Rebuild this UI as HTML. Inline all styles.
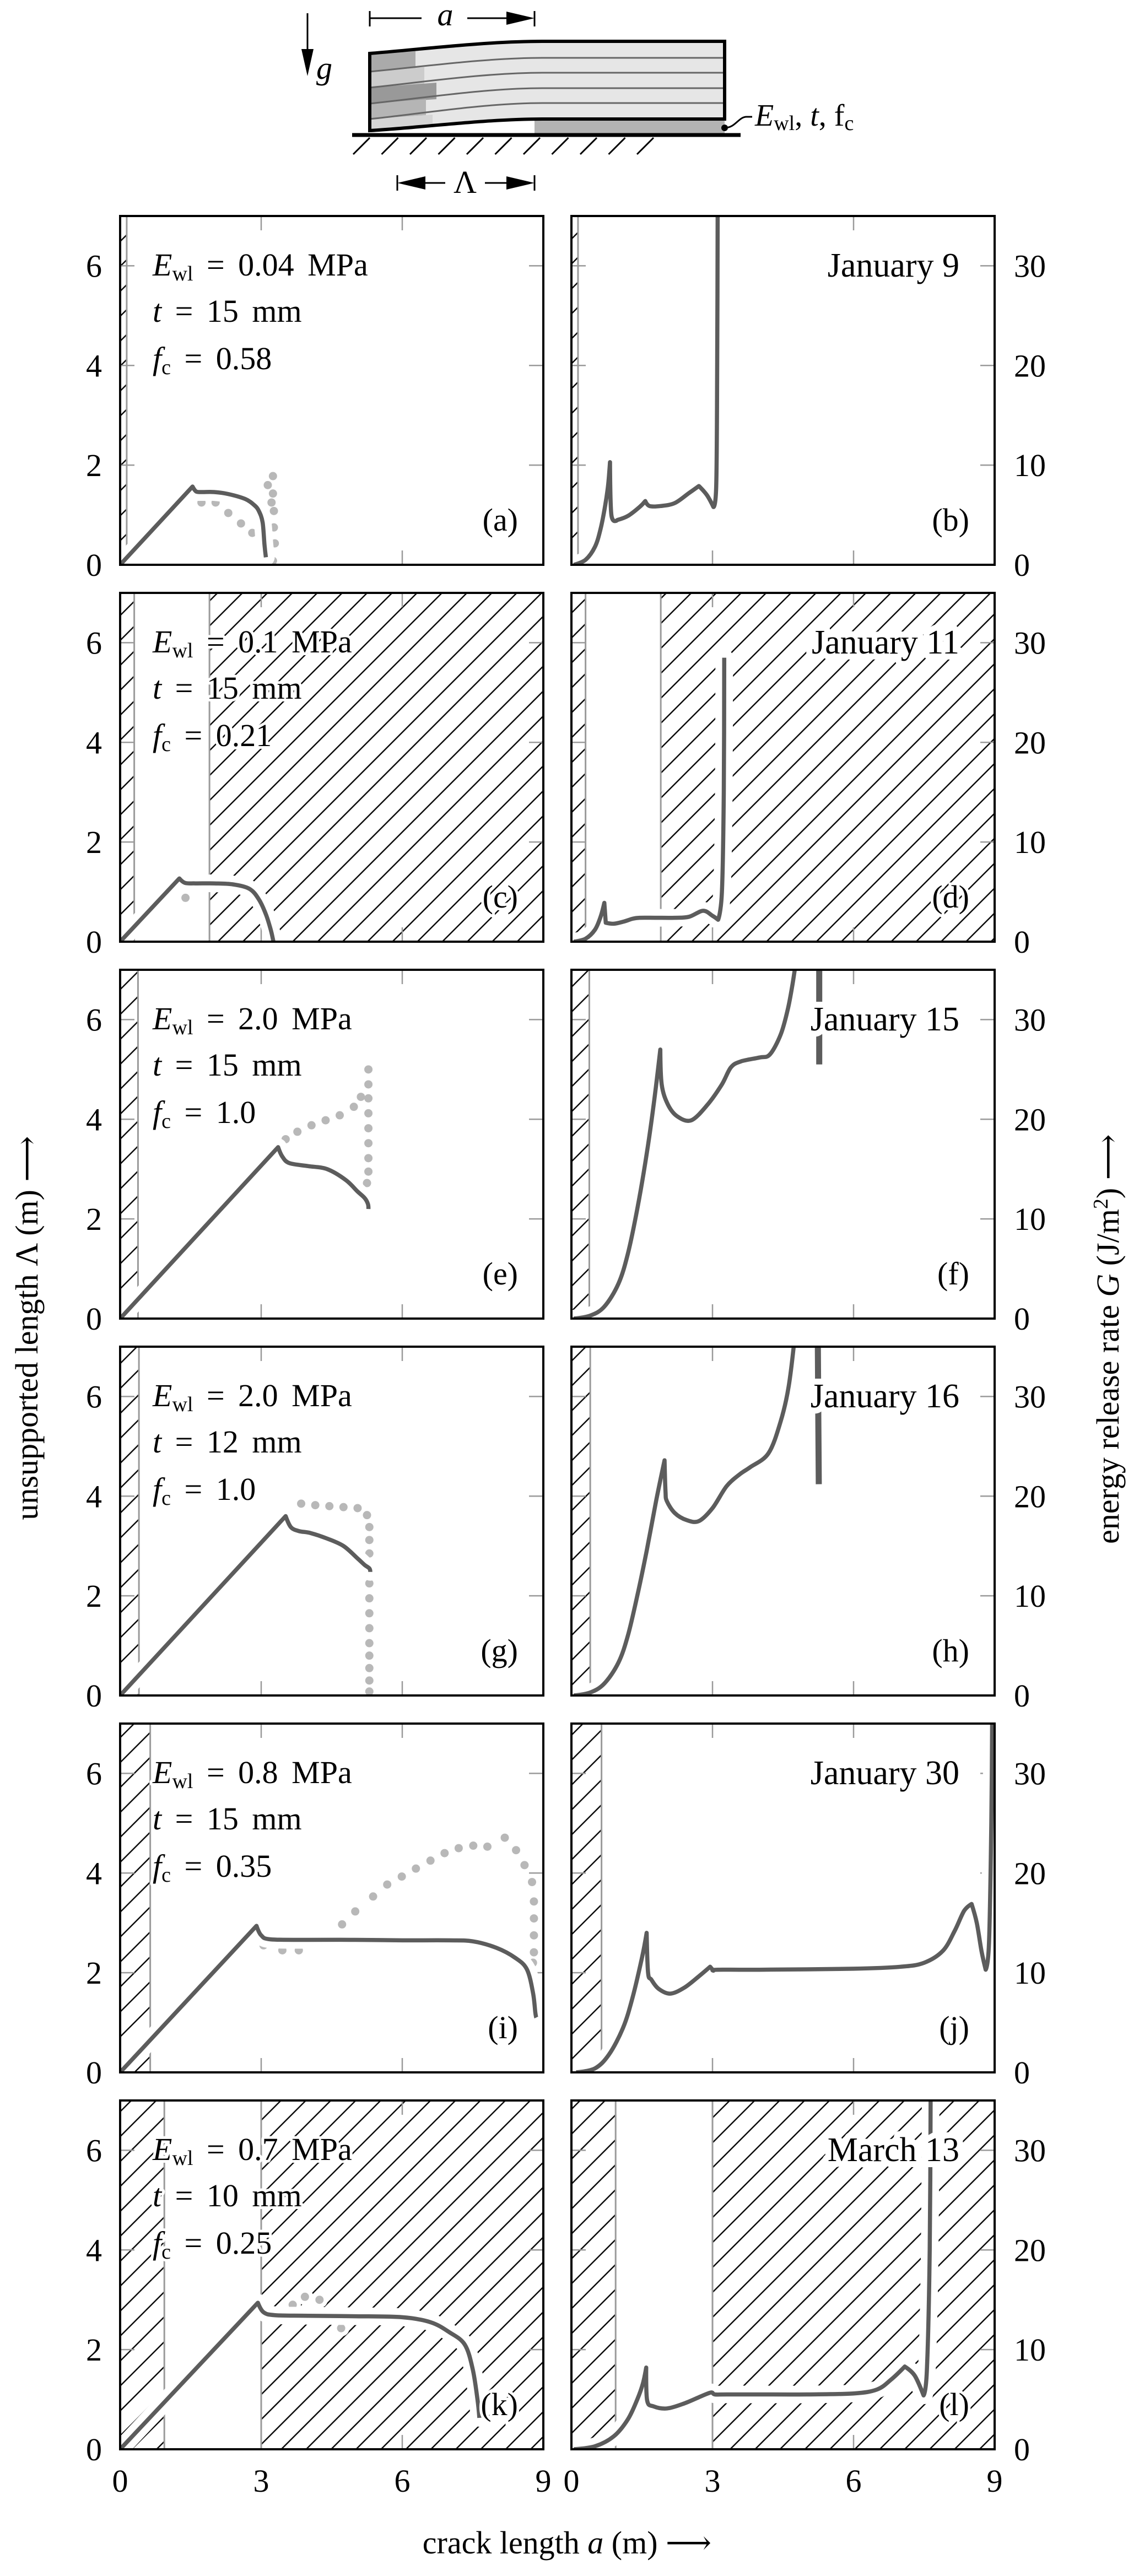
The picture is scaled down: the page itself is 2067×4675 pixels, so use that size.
<!DOCTYPE html>
<html>
<head>
<meta charset="utf-8">
<style>
html,body{margin:0;padding:0;background:#fff;}
svg{display:block;font-family:"Liberation Serif","DejaVu Serif",serif;}
svg text{font-family:"Liberation Serif","DejaVu Serif",serif;fill:#000;}
</style>
</head>
<body>
<svg id="chart" xmlns="http://www.w3.org/2000/svg" width="2067" height="4675" viewBox="0 0 2067 4675" font-family="Liberation Serif, serif">
<defs>
<pattern id="hatch" patternUnits="userSpaceOnUse" width="32" height="64" patternTransform="rotate(45)">
<line x1="16" y1="-2" x2="16" y2="66" stroke="#000" stroke-width="2.4"/>
</pattern>
</defs>
<g id="diagram">
  <path d="M671,97 C760,90 880,75 984,75 L1315,75 L1315,216 L984,216 C880,216 760,232 671,237 Z" fill="#e6e6e6"/>
  <path d="M671,97 L754,90 L754,124 L671,130 Z" fill="#aaaaaa"/>
  <path d="M671,130 L770,122 L770,152 L671,159 Z" fill="#cccccc"/>
  <path d="M671,159 L792,150 L792,180 L671,188 Z" fill="#999999"/>
  <path d="M671,188 L773,180 L773,209 L671,216 Z" fill="#b5b5b5"/>
  <path d="M671,216 L785,208 L785,230 L671,237 Z" fill="#d5d5d5"/>
  <rect x="970" y="219" width="345" height="23" fill="#b3b3b3"/>
  <g fill="none" stroke="#666" stroke-width="3">
    <path d="M671,130 C760,122 880,105 984,105 L1315,105"/>
    <path d="M671,159 C760,150 880,132 984,132 L1315,132"/>
    <path d="M671,188 C760,179 880,160 984,160 L1315,160"/>
    <path d="M671,216 C760,207 880,187 984,187 L1315,187"/>
  </g>
  <path d="M671,97 C760,90 880,75 984,75 L1315,75 L1315,216 L984,216 C880,216 760,232 671,237 Z" fill="none" stroke="#000" stroke-width="6"/>
  <line x1="639" y1="245" x2="1344" y2="245" stroke="#000" stroke-width="7"/>
  <g id="groundHatch" stroke="#000" stroke-width="3"></g>
  <circle cx="1315" cy="232" r="6" fill="#000"/>
  <path d="M1315,232 C1335,232 1340,212 1355,212 L1365,212" fill="none" stroke="#000" stroke-width="3"/>
  <text x="1370" y="228" font-size="56" font-family="Liberation Serif, serif"><tspan font-style="italic">E</tspan><tspan font-size="38" dy="8">wl</tspan><tspan dy="-8">, </tspan><tspan font-style="italic">t</tspan><tspan>, f</tspan><tspan font-size="38" dy="8">c</tspan></text>
  <line x1="671" y1="20" x2="671" y2="48" stroke="#000" stroke-width="3"/>
  <line x1="970" y1="20" x2="970" y2="48" stroke="#000" stroke-width="3"/>
  <line x1="671" y1="33" x2="765" y2="33" stroke="#000" stroke-width="3"/>
  <line x1="848" y1="33" x2="925" y2="33" stroke="#000" stroke-width="3"/>
  <polygon points="919,21 970,33 919,45" fill="#000"/>
  <text x="808" y="46" font-size="58" font-style="italic" text-anchor="middle" font-family="Liberation Serif, serif">a</text>
  <line x1="721" y1="318" x2="721" y2="346" stroke="#000" stroke-width="3"/>
  <line x1="970" y1="318" x2="970" y2="346" stroke="#000" stroke-width="3"/>
  <polygon points="721,332 772,320 772,344" fill="#000"/>
  <line x1="770" y1="332" x2="808" y2="332" stroke="#000" stroke-width="3"/>
  <line x1="880" y1="332" x2="922" y2="332" stroke="#000" stroke-width="3"/>
  <polygon points="919,320 970,332 919,344" fill="#000"/>
  <text x="844" y="350" font-size="58" text-anchor="middle" font-family="Liberation Serif, serif">Λ</text>
  <line x1="558" y1="24" x2="558" y2="95" stroke="#000" stroke-width="3"/>
  <polygon points="547,89 569,89 558,138" fill="#000"/>
  <text x="574" y="143" font-size="58" font-style="italic" font-family="Liberation Serif, serif">g</text>
</g>
<g id="panels"></g>
<text transform="translate(68,2410) rotate(-90)" font-size="58" text-anchor="middle" font-family="Liberation Serif, serif">unsupported length Λ (m) ⟶</text>
<text transform="translate(2030,2430) rotate(-90)" font-size="58" text-anchor="middle" font-family="Liberation Serif, serif">energy release rate <tspan font-style="italic">G</tspan> (J/m<tspan font-size="38" dy="-20">2</tspan><tspan dy="20">) ⟶</tspan></text>
<text x="1029" y="4634" font-size="58" text-anchor="middle" font-family="Liberation Serif, serif">crack length <tspan font-style="italic">a</tspan> (m) ⟶</text>
</svg>
<script>
// ---------------- data (axis units: a in m, Λ in m, G in J/m²) ----------------
const xTicks = [0, 3, 6, 9];
const yTicksLeft = [0, 2, 4, 6];
const yTicksRight = [0, 10, 20, 30];
const panelLetters = ["a","b","c","d","e","f","g","h","i","j","k","l"];
const paramE = ["0.04", "0.1", "2.0", "2.0", "0.8", "0.7"];
const paramT = ["15", "15", "15", "12", "15", "10"];
const paramF = ["0.58", "0.21", "1.0", "1.0", "0.35", "0.25"];
const dateLabels = ["January 9", "January 11", "January 15", "January 16", "January 30", "March 13"];
const hatchBands = [
  [[0,0.14]],
  [[0,0.3],[1.9,9]],
  [[0,0.38]],
  [[0,0.4]],
  [[0,0.64]],
  [[0,0.94],[3.0,9]]
];
const a_x = [0,1.54,1.62,1.75,2.0,2.3,2.66,2.85,2.95,3.03,3.07,3.1];
const a_y = [0,1.57,1.47,1.46,1.46,1.42,1.32,1.2,1.08,0.85,0.4,0.15];
const a_dx = [1.73,2.03,2.3,2.57,2.81,3.25,3.14,3.25,3.22,3.27,3.27,3.29,3.25];
const a_dy = [1.25,1.25,1.04,0.83,0.64,1.78,1.6,1.43,1.25,1.08,0.75,0.43,0.08];
const b_x = [0.05,0.3,0.5,0.62,0.72,0.78,0.82,0.85,0.98,1.2,1.45,1.57,1.66,1.9,2.2,2.5,2.71,2.88,3.02,3.08,3.1,3.11];
const b_y = [0,0.5,1.8,3.6,6.0,8.0,10.3,5.0,4.5,4.9,5.8,6.4,5.9,5.9,6.2,7.2,7.9,7.0,5.8,8,20,36];
const c_x = [0,1.26,1.38,1.6,2.0,2.4,2.75,2.95,3.1,3.2,3.25,3.26];
const c_y = [0,1.27,1.18,1.17,1.17,1.15,1.06,0.85,0.55,0.25,0.05,0];
const c_dx = [1.39];
const c_dy = [0.88];
const d_x = [0.05,0.3,0.5,0.62,0.7,0.73,0.9,1.1,1.3,1.45,1.8,2.2,2.5,2.8,3.0,3.12,3.2,3.24,3.25];
const d_y = [0,0.3,1.2,2.5,3.9,1.9,1.8,2.0,2.3,2.4,2.4,2.4,2.5,3.1,2.6,2.2,5,15,28.5];
const e_x = [0,3.36,3.45,3.6,4.0,4.4,4.8,5.05,5.2,5.27,5.28];
const e_y = [0,3.44,3.25,3.12,3.06,3.0,2.78,2.55,2.42,2.3,2.2];
const e_dx = [3.52,3.77,4.07,4.37,4.67,4.97,5.12,5.28,5.28,5.28,5.28,5.28,5.28,5.28,5.28,5.25];
const e_dy = [3.6,3.75,3.88,3.98,4.08,4.25,4.45,5.0,4.7,4.42,4.12,3.82,3.52,3.22,2.95,2.72];
const f_x = [0.05,0.4,0.7,1.0,1.2,1.4,1.6,1.75,1.89,1.92,2.05,2.25,2.55,2.9,3.2,3.39,3.6,4.0,4.22,4.45,4.6,4.7,4.78];
const f_y = [0,0.3,1.2,3.5,6.5,11,16.5,21.5,27,23.5,21.5,20.3,19.9,21.5,23.5,25.2,25.8,26.2,26.5,28.5,31,33.5,36];
const f_spike_x = [5.27,5.27,5.27];
const f_spike_y = [36,30,25.5];
const g_x = [0,3.52,3.63,3.8,4.05,4.4,4.75,5.05,5.2,5.3,5.32];
const g_y = [0,3.6,3.38,3.3,3.26,3.15,3.0,2.75,2.62,2.55,2.48];
const g_dx = [3.85,4.15,4.45,4.75,5.05,5.25,5.3,5.3,5.3,5.3,5.3,5.3,5.3,5.3,5.3,5.3,5.3,5.3,5.3,5.3];
const g_dy = [3.85,3.82,3.8,3.78,3.76,3.62,3.38,3.12,2.85,2.55,2.25,1.95,1.65,1.35,1.05,0.8,0.55,0.3,0.08,-0.1];
const h_x = [0.05,0.4,0.7,1.0,1.2,1.4,1.6,1.8,1.98,2.0,2.03,2.2,2.45,2.71,3.0,3.3,3.58,3.8,4.19,4.45,4.62,4.75];
const h_y = [0,0.3,1.2,3.3,6.0,10,14.5,19.5,23.6,20.5,19.5,18.3,17.6,17.5,18.8,21,22.2,22.9,24.3,27.5,31,36];
const h_spike_x = [5.24,5.25,5.26];
const h_spike_y = [36,28,21.2];
const i_x = [0,2.9,3.0,3.2,4,5,6,7,7.5,8,8.4,8.65,8.78,8.83,8.85];
const i_y = [0,2.94,2.75,2.67,2.66,2.66,2.65,2.65,2.63,2.5,2.3,2.07,1.6,1.2,1.1];
const i_dx = [3.05,3.45,3.8,4.72,5.0,5.38,5.68,5.99,6.29,6.6,6.9,7.2,7.51,7.81,8.18,8.42,8.6,8.76,8.8,8.8,8.8,8.8,8.78];
const i_dy = [2.55,2.45,2.45,2.97,3.23,3.53,3.77,3.93,4.09,4.25,4.4,4.5,4.55,4.53,4.71,4.46,4.16,3.82,3.43,3.09,2.75,2.41,2.2];
const j_x = [0.1,0.5,0.8,1.1,1.3,1.5,1.6,1.63,1.7,1.85,2.1,2.4,2.7,2.95,3.02,3.1,4,6,7,7.5,7.9,8.15,8.35,8.51,8.62,8.72,8.81,8.88,8.93,8.95];
const j_y = [0,0.4,1.8,4.5,7.5,11.5,14,10,9.3,8.4,7.9,8.5,9.6,10.6,10.2,10.3,10.3,10.4,10.6,11.0,12.2,14.2,16.2,16.9,15,12.2,10.3,13,25,37];
const k_x = [0,2.93,3.05,3.3,4,5,6,6.6,7.0,7.33,7.5,7.6,7.64];
const k_y = [0,2.94,2.75,2.69,2.68,2.67,2.65,2.55,2.35,2.1,1.6,1.0,0.63];
const k_dx = [3.67,3.93,4.24,4.7];
const k_dy = [2.9,3.06,3.0,2.43];
const l_x = [0.05,0.5,0.9,1.2,1.4,1.52,1.59,1.61,1.75,2.04,2.4,2.75,2.97,3.05,3.3,4,5,6,6.5,6.8,7.09,7.3,7.49,7.56,7.62,7.64];
const l_y = [0,0.3,1.3,3.0,5.0,6.6,8.2,4.9,4.3,4.1,4.6,5.3,5.7,5.5,5.5,5.5,5.5,5.6,6.0,7.0,8.3,7.4,5.4,8,20,36];

const solidX = [a_x,b_x,c_x,d_x,e_x,f_x,g_x,h_x,i_x,j_x,k_x,l_x];
const solidY = [a_y,b_y,c_y,d_y,e_y,f_y,g_y,h_y,i_y,j_y,k_y,l_y];
const dotsX = [a_dx,null,c_dx,null,e_dx,null,g_dx,null,i_dx,null,k_dx,null];
const dotsY = [a_dy,null,c_dy,null,e_dy,null,g_dy,null,i_dy,null,k_dy,null];
const spikeX = [null,null,null,null,null,f_spike_x,null,h_spike_x,null,null,null,null];
const spikeY = [null,null,null,null,null,f_spike_y,null,h_spike_y,null,null,null,null];

const NS = "http://www.w3.org/2000/svg";
const LEFTS = [218, 1037];
const PW = 768, PH = 633;
const TOPS = [392, 1076, 1760, 2444, 3128, 3812];
const XMAX = 9;
const YMAX = [7, 35];
const LINE = "#5c5c5c", DOT = "#b8b8b8", GRID = "#9a9a9a";
const FONT = "Liberation Serif, serif";

function mk(tag, parent, attrs) {
  const e = document.createElementNS(NS, tag);
  for (const k in attrs) e.setAttribute(k, attrs[k]);
  parent.appendChild(e);
  return e;
}
function xs(col, a) { return LEFTS[col] + a * PW / XMAX; }
function ys(row, col, v) { return TOPS[row] + PH - v * PH / YMAX[col]; }

// smooth path; sharp corners preserved
function smoothPath(P) {
  const n = P.length;
  const tang = [];
  for (let i = 0; i < n; i++) {
    if (i === 0 || i === n - 1) { tang.push([0, 0]); continue; }
    const ax = P[i][0] - P[i-1][0], ay = P[i][1] - P[i-1][1];
    const bx = P[i+1][0] - P[i][0], by = P[i+1][1] - P[i][1];
    const la = Math.hypot(ax, ay) || 1, lb = Math.hypot(bx, by) || 1;
    const dot = (ax * bx + ay * by) / (la * lb);
    if (dot < 0.5) { tang.push([0, 0]); continue; }
    tang.push([(P[i+1][0] - P[i-1][0]) / 6, (P[i+1][1] - P[i-1][1]) / 6]);
  }
  let d = "M" + P[0][0].toFixed(1) + "," + P[0][1].toFixed(1);
  for (let i = 0; i < n - 1; i++) {
    const c1 = [P[i][0] + tang[i][0], P[i][1] + tang[i][1]];
    const c2 = [P[i+1][0] - tang[i+1][0], P[i+1][1] - tang[i+1][1]];
    d += " C" + c1[0].toFixed(1) + "," + c1[1].toFixed(1) + " " + c2[0].toFixed(1) + "," + c2[1].toFixed(1) + " " + P[i+1][0].toFixed(1) + "," + P[i+1][1].toFixed(1);
  }
  return d;
}

const gh = document.getElementById("groundHatch");
for (let i = 0; i < 11; i++) {
  const x0 = 671 + i * 51.5;
  const ln = mk("line", gh, {x1: x0, y1: 250, x2: x0 - 30, y2: 280});
  
  
}

const root = document.getElementById("panels");
for (let row = 0; row < 6; row++) {
  for (let col = 0; col < 2; col++) {
    const idx = row * 2 + col;
    const L = LEFTS[col], T = TOPS[row];
    const g = mk("g", root, {});
    
    
    const cid = "clip" + idx;
    const cp = mk("clipPath", g, {id: cid});
    mk("rect", cp, {x: L, y: T, width: PW, height: PH});
    const inner = mk("g", g, {"clip-path": "url(#" + cid + ")"});

    for (const band of hatchBands[row]) {
      const hr = mk("rect", inner, {x: xs(col, band[0]), y: T, width: xs(col, band[1]) - xs(col, band[0]), height: PH, fill: "url(#hatch)"});
      
      
      for (const b of band) {
        if (b > 0.01 && b < XMAX - 0.01) {
          const bl = mk("line", inner, {x1: xs(col, b), y1: T, x2: xs(col, b), y2: T + PH, stroke: GRID, "stroke-width": 3});
          
          
        }
      }
    }
    const yt = col === 0 ? yTicksLeft : yTicksRight;
    for (const v of yt) {
      if (v === 0) continue;
      const y = ys(row, col, v);
      const t1 = mk("line", inner, {x1: L, y1: y, x2: L + 26, y2: y, stroke: GRID, "stroke-width": 2.5});
      
      
      const t2 = mk("line", inner, {x1: L + PW - 26, y1: y, x2: L + PW, y2: y, stroke: GRID, "stroke-width": 2.5});
      
      
    }
    for (const v of xTicks) {
      if (v === 0 || v === XMAX) continue;
      const x = xs(col, v);
      const t1 = mk("line", inner, {x1: x, y1: T, x2: x, y2: T + 26, stroke: GRID, "stroke-width": 2.5});
      
      
      const t2 = mk("line", inner, {x1: x, y1: T + PH - 26, x2: x, y2: T + PH, stroke: GRID, "stroke-width": 2.5});
      
      
    }

    const dx = dotsX[idx], dy = dotsY[idx];
    if (dx) {
      for (let i = 0; i < dx.length; i++) {
        const h = mk("circle", inner, {cx: xs(col, dx[i]), cy: ys(row, col, dy[i]), r: 15, fill: "#fff"});
        
        
      }
      for (let i = 0; i < dx.length; i++) {
        const c = mk("circle", inner, {cx: xs(col, dx[i]), cy: ys(row, col, dy[i]), r: 7.5, fill: DOT});
        
        
      }
    }
    const sx = solidX[idx], sy = solidY[idx];
    const P = sx.map((v, i) => [xs(col, v), ys(row, col, sy[i])]);
    const dpath = smoothPath(P);
    const halo = mk("path", inner, {d: dpath, fill: "none", stroke: "#fff", "stroke-width": 32, "stroke-linejoin": "round", "stroke-linecap": "round"});
    
    
    if (spikeX[idx]) {
      const spts = spikeX[idx].map((v, i) => xs(col, v).toFixed(1) + "," + ys(row, col, spikeY[idx][i]).toFixed(1)).join(" ");
      const sh = mk("polyline", inner, {points: spts, fill: "none", stroke: "#fff", "stroke-width": 34});
      
      
      const sp = mk("polyline", inner, {points: spts, fill: "none", stroke: LINE, "stroke-width": 11});
      
      
    }
    const curve = mk("path", inner, {d: dpath, fill: "none", stroke: LINE, "stroke-width": 7.5, "stroke-linejoin": "round"});
    
    

    if (col === 0) {
      const lines = [
        '<tspan font-style="italic">E</tspan><tspan font-size="38" dy="9">wl</tspan><tspan dy="-9"> = ' + paramE[row] + ' MPa</tspan>',
        '<tspan font-style="italic">t</tspan><tspan> = ' + paramT[row] + ' mm</tspan>',
        '<tspan font-style="italic">f</tspan><tspan font-size="38" dy="9">c</tspan><tspan dy="-9"> = ' + paramF[row] + '</tspan>'
      ];
      const bases = [108, 192, 278];
      for (let k = 0; k < 3; k++) {
        const tx = mk("text", g, {x: L + 59, y: T + bases[k], "font-size": 58, "font-family": FONT, "word-spacing": 10, stroke: "#fff", "stroke-width": 10, "paint-order": "stroke", "stroke-linejoin": "round"});
        tx.innerHTML = lines[k];
        
        
      }
    } else {
      const dt = mk("text", g, {x: L + PW - 64, y: T + 110, "font-size": 62, "font-family": FONT, "text-anchor": "end", stroke: "#fff", "stroke-width": 22, "paint-order": "stroke", "stroke-linejoin": "round"});
      dt.textContent = dateLabels[row];
      
      
    }
    const pl = mk("text", g, {x: L + PW - 46, y: T + 571, "font-size": 58, "font-family": FONT, "text-anchor": "end", stroke: "#fff", "stroke-width": 10, "paint-order": "stroke"});
    pl.textContent = "(" + panelLetters[idx] + ")";
    
    

    const br = mk("rect", g, {x: L, y: T, width: PW, height: PH, fill: "none", stroke: "#000", "stroke-width": 4});
    
    

    for (const v of yt) {
      const y = ys(row, col, v) + 20;
      const lt = mk("text", g, col === 0 ? {x: 185, y: y, "font-size": 58, "font-family": FONT, "text-anchor": "end"} : {x: 1840, y: y, "font-size": 58, "font-family": FONT});
      lt.textContent = String(v);
      
      
    }
    if (row === 5) {
      for (const v of xTicks) {
        const xt = mk("text", g, {x: xs(col, v), y: 4522, "font-size": 58, "font-family": FONT, "text-anchor": "middle"});
        xt.textContent = String(v);
        
        
      }
    }
  }
}
</script>
</body>
</html>
